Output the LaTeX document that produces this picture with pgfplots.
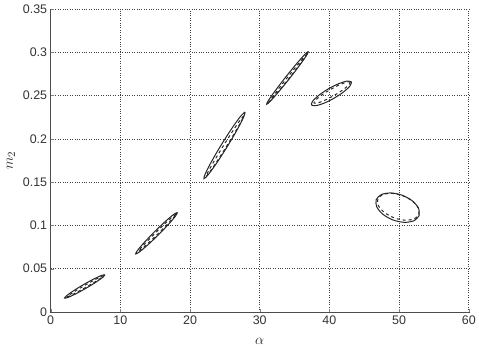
\documentclass[border=0pt]{standalone}
\usepackage{pgfplots}
\pgfplotsset{compat=1.18}
\usepackage{fontspec}
\setmainfont{Liberation Sans}
\begin{document}
\begin{tikzpicture}
\begin{axis}[
  scale only axis, width=418.6bp, height=303.3bp,
  xmin=0, xmax=60, ymin=0, ymax=0.35,
  xtick={0,10,20,30,40,50,60},
  ytick={0,0.05,0.1,0.15,0.2,0.25,0.3,0.35},
  grid=major, grid style={dotted, black!75, line width=0.6pt},
  axis x line*=bottom, axis y line*=left,
  axis line style={black!70, line width=0.7pt},
  tick align=inside, major tick length=3bp,
  scaled y ticks=false,
  yticklabel style={/pgf/number format/fixed, /pgf/number format/precision=2},
  /pgf/number format/assume math mode=true,
  tick label style={font=\fontsize{12.5}{14}\selectfont, black!80},
  label style={font=\fontsize{15}{17}\selectfont, black!85},
  xlabel={$\alpha$}, ylabel={$m_2$},
  xlabel style={yshift=-7bp},
  ylabel style={yshift=1bp},
  every axis plot/.append style={line width=1pt, black!85},
]
% cluster 1
\addplot[smooth] coordinates {(7.8,0.043) (7.332,0.04229) (6.213,0.03815) (4.742,0.0317) (3.313,0.02465) (2.31,0.01891) (2.0,0.016) (2.468,0.01671) (3.587,0.02085) (5.058,0.0273) (6.487,0.03435) (7.49,0.04009) (7.8,0.043)};
\addplot[smooth, dashed] coordinates {(7.6,0.0418) (7.212,0.04073) (6.231,0.0367) (4.92,0.0308) (3.631,0.0246) (2.708,0.01977) (2.4,0.0176) (2.788,0.01867) (3.769,0.0227) (5.08,0.0286) (6.369,0.0348) (7.292,0.03963) (7.6,0.0418)};
% cluster 2
\addplot[smooth] coordinates {(18.2,0.115) (17.673,0.11278) (16.4835,0.10473) (14.95,0.093) (13.4835,0.08073) (12.477,0.07122) (12.2,0.067) (12.727,0.06922) (13.9165,0.07727) (15.45,0.089) (16.9165,0.10127) (17.923,0.11078) (18.2,0.115)};
\addplot[smooth, dashed] coordinates {(18.0,0.113) (17.578,0.11062) (16.546,0.10312) (15.18,0.0925) (13.846,0.08162) (12.902,0.07338) (12.6,0.07) (13.022,0.07238) (14.054,0.07988) (15.42,0.0905) (16.754,0.10138) (17.698,0.10962) (18.0,0.113)};
% cluster 3
\addplot[smooth] coordinates {(27.9,0.231) (27.3197,0.22674) (26.1046,0.21331) (24.58,0.1943) (23.1546,0.17481) (22.2103,0.16006) (22.0,0.154) (22.5803,0.15826) (23.7954,0.17169) (25.32,0.1907) (26.7454,0.21019) (27.6897,0.22494) (27.9,0.231)};
\addplot[smooth, dashed] coordinates {(27.7,0.2265) (27.248,0.22226) (26.194,0.20978) (24.82,0.1924) (23.494,0.17478) (22.572,0.16164) (22.3,0.1565) (22.752,0.16074) (23.806,0.17322) (25.18,0.1906) (26.506,0.20822) (27.428,0.22136) (27.7,0.2265)};
% cluster 4
\addplot[smooth] coordinates {(37,0.301) (36.488,0.29761) (35.3095,0.28696) (33.78,0.2719) (32.3095,0.25646) (31.292,0.24479) (31,0.24) (31.512,0.24339) (32.6905,0.25404) (34.22,0.2691) (35.6905,0.28454) (36.708,0.29621) (37,0.301)};
\addplot[smooth, dashed] coordinates {(36.8,0.298) (36.388,0.29467) (35.3634,0.28486) (34.0,0.2712) (32.6634,0.25736) (31.712,0.24703) (31.4,0.243) (31.812,0.24633) (32.8366,0.25614) (34.2,0.2698) (35.5366,0.28364) (36.488,0.29397) (36.8,0.298)};
% cluster 5
\addplot[smooth] coordinates {(43.17,0.2658) (42.5904,0.26677) (41.3973,0.26391) (39.91,0.258) (38.5273,0.25061) (37.6196,0.24373) (37.43,0.2392) (38.0096,0.23823) (39.2027,0.24109) (40.69,0.247) (42.0727,0.25439) (42.9804,0.26127) (43.17,0.2658)};
\addplot[smooth, dashed] coordinates {(43.0,0.2655) (42.5266,0.26564) (41.4835,0.26253) (40.15,0.257) (38.8835,0.25053) (38.0234,0.24486) (37.8,0.2415) (38.2734,0.24136) (39.3165,0.24447) (40.65,0.25) (41.9165,0.25647) (42.7766,0.26214) (43.0,0.2655)};
% cluster 6
\addplot[smooth] coordinates {(52.88,0.1113) (52.7973,0.11968) (51.9116,0.12828) (50.46,0.1348) (48.8316,0.13748) (47.4627,0.13562) (46.72,0.1297) (46.8027,0.12132) (47.6884,0.11272) (49.14,0.1062) (50.7684,0.10352) (52.1373,0.10538) (52.88,0.1113)};
\addplot[smooth, dashed] coordinates {(52.85,0.1127) (52.7547,0.12028) (51.8946,0.12818) (50.5,0.1343) (48.9446,0.13698) (47.6453,0.13552) (46.95,0.1303) (47.0453,0.12272) (47.9054,0.11482) (49.3,0.1087) (50.8554,0.10602) (52.1547,0.10748) (52.85,0.1127)};
\end{axis}
\path (current axis.south west) ++(-50.7bp,-37.7bp) rectangle ++(479bp,350bp);
\end{tikzpicture}
\end{document}
